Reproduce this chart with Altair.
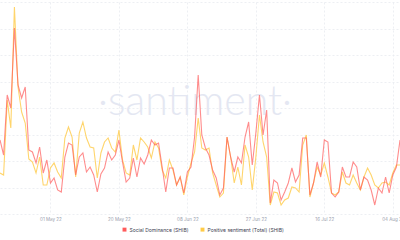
import altair as alt
import pandas as pd

start_date = "2022-04-17"
n_days = 112

series_names = ["Social Dominance (SHIB)", "Positive sentiment (Total) (SHIB)"]
series_colors = ["#ff5b5b", "#ffcb47"]

social_dominance = [
    74, 59, 119, 106, 186, 129, 116, 127, 64, 62, 51, 67, 41, 54, 31, 36, 24, 22, 57, 71, 69, 39, 57, 61, 42, 47, 39, 22,
    40, 46, 62, 54, 59, 74, 52, 32, 36, 56, 37, 56, 50, 59, 74, 69, 71, 47, 22, 46, 46, 29, 37, 21, 42, 47, 77, 139,
    79, 66, 59, 44, 36, 19, 26, 77, 57, 42, 57, 51, 77, 92, 49, 81, 119, 79, 104, 11, 34, 31, 14, 22, 31, 46, 32, 39,
    76, 76, 19, 31, 52, 37, 74, 72, 21, 17, 22, 47, 37, 37, 52, 47, 24, 37, 34, 24, 9, 26, 21, 37, 21, 39, 47, 74,
]
positive_sentiment = [
    41, 39, 114, 86, 207, 127, 102, 91, 55, 52, 41, 57, 29, 29, 46, 51, 42, 36, 76, 87, 77, 37, 81, 92, 76, 67, 66, 36,
    61, 72, 76, 66, 62, 84, 54, 41, 39, 69, 54, 76, 72, 67, 56, 72, 66, 44, 36, 54, 44, 29, 37, 19, 37, 51, 62, 96,
    66, 64, 66, 41, 29, 17, 21, 77, 57, 31, 47, 29, 69, 57, 24, 57, 99, 72, 57, 9, 22, 21, 9, 14, 16, 27, 26, 22,
    69, 79, 17, 31, 47, 39, 51, 37, 21, 19, 22, 42, 31, 29, 39, 31, 24, 37, 46, 39, 29, 26, 31, 32, 29, 41, 49, 49,
]

tick_dates = ["2022-05-01", "2022-05-20", "2022-06-08", "2022-06-27", "2022-07-16", "2022-08-04"]
grid_values = [0, 26.5, 53, 79.5, 106, 132.5, 159, 185.5, 212]

dates = pd.date_range(start_date, periods=n_days, freq="D").strftime("%Y-%m-%d")
df = pd.concat([
    pd.DataFrame({"date": dates, "value": social_dominance, "series": series_names[0]}),
    pd.DataFrame({"date": dates, "value": positive_sentiment, "series": series_names[1]}),
])

tick_vals = [alt.DateTime(year=int(d[:4]), month=int(d[5:7]), date=int(d[8:]), utc=True) for d in tick_dates]

x_enc = alt.X(
    "date:T",
    scale=alt.Scale(type="utc", domain=[alt.DateTime(year=2022, month=4, date=17, utc=True),
                                        alt.DateTime(year=2022, month=8, date=6, utc=True)]),
    axis=alt.Axis(values=tick_vals, labelExpr="utcFormat(datum.value, '%d %b %y')", title=None,
                  domain=False, ticks=False, labelFontSize=4.5, labelColor="#9aa0ad",
                  labelPadding=2, labelFont="Inter", grid=True, gridDash=[2, 2],
                  gridColor="#e9ebf0", gridWidth=0.8, labelFlush=False),
)
y_enc = alt.Y(
    "value:Q",
    scale=alt.Scale(domain=[0, 212], nice=False, zero=False),
    axis=alt.Axis(values=grid_values, labels=False, ticks=False, domain=False, title=None,
                  grid=True, gridDash=[2, 2], gridColor="#e9ebf0", gridWidth=0.8),
)
color_enc = alt.Color(
    "series:N",
    scale=alt.Scale(domain=series_names, range=series_colors),
    legend=alt.Legend(orient="none", legendX=122, legendY=225, direction="horizontal", title=None,
                      symbolType="square", symbolSize=3, symbolStrokeWidth=2.2, symbolOpacity=1,
                      labelFontSize=5, labelColor="#3b4050", labelFont="Inter",
                      labelOffset=2.5, columnPadding=8),
)

watermark = alt.Chart(pd.DataFrame({"t": ["·santiment·"]})).mark_text(
    fontSize=41, font="Lato", fontWeight=300, color="#e4e7f2", align="center", baseline="alphabetic"
).encode(x=alt.value(195), y=alt.value(113), text="t:N")

yellow = alt.Chart(df[df.series == series_names[1]]).mark_line(
    strokeWidth=1.1, opacity=0.8, interpolate="linear"
).encode(x=x_enc, y=y_enc, color=color_enc)

red = alt.Chart(df[df.series == series_names[0]]).mark_line(
    strokeWidth=1.1, opacity=0.7, interpolate="linear"
).encode(x=x_enc, y=y_enc, color=color_enc)

chart = alt.layer(watermark, yellow, red).properties(
    width=400, height=212,
    autosize=alt.AutoSizeParams(type="none"),
    padding={"top": 2, "left": 0, "right": 0, "bottom": 26},
    background="white",
).configure_view(stroke=None)

chart.save("out.html", embed_options={"renderer": "svg", "actions": False})
